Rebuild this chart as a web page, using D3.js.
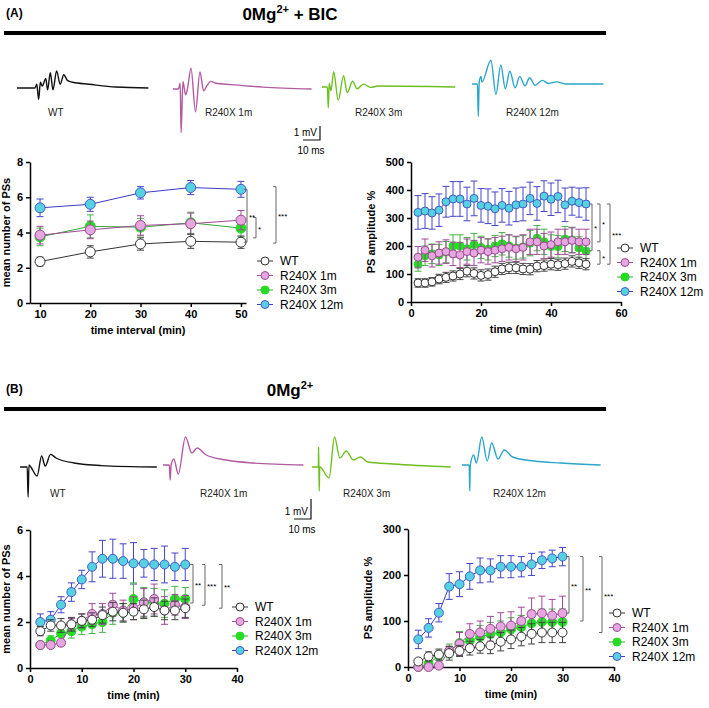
<!DOCTYPE html>
<html><head><meta charset="utf-8">
<script src="https://cdn.jsdelivr.net/npm/d3@7"></script>
<style>body{margin:0;background:#fff}text{font-family:Arial,"Liberation Sans",sans-serif}</style>
</head><body>
<svg id="fig" width="709" height="708"></svg>
<script>
// group labels
var groups = ["WT", "R240X 1m", "R240X 3m", "R240X 12m"];

// A1: mean number of PSs vs time interval
var a1Time = [10, 20, 30, 40, 50];
var a1Mean = [
  [2.35, 2.9, 3.35, 3.5, 3.45],
  [3.85, 4.15, 4.4, 4.5, 4.7],
  [3.75, 4.35, 4.3, 4.55, 4.25],
  [5.4, 5.6, 6.25, 6.55, 6.45]];
var a1Err = [
  [0.25, 0.35, 0.35, 0.4, 0.35],
  [0.5, 0.5, 0.55, 0.6, 0.55],
  [0.5, 0.65, 0.5, 0.6, 0.5],
  [0.5, 0.4, 0.35, 0.4, 0.45]];

// A2: PS amplitude %
var a2Time = d3.range(2, 51, 2);
var a2Mean = [
  [68,68,72,82,88,93,100,110,102,95,98,108,118,122,122,118,117,128,130,135,133,137,145,140,135],
  [160,185,165,175,180,172,168,180,175,185,180,185,190,195,190,195,215,215,200,205,215,215,220,215,215],
  [135,165,172,168,178,200,200,190,205,195,188,200,208,200,193,197,210,228,215,198,198,225,222,193,182],
  [320,325,318,328,358,368,368,350,370,345,342,333,345,335,347,350,370,352,378,367,377,347,360,355,350]];
var a2Err = [
  [15,15,15,17,18,18,20,20,20,20,20,20,20,20,20,20,20,20,20,20,20,20,20,20,20],
  [38,40,40,40,42,42,45,45,45,45,45,45,45,45,45,45,45,45,45,45,45,45,45,45,45],
  [25,35,35,38,38,40,40,40,40,40,38,38,40,40,40,40,45,45,45,42,40,45,45,40,38],
  [60,62,58,58,55,62,62,60,62,60,62,60,60,60,60,60,58,60,55,58,58,60,50,52,58]];

// B1: mean number of PSs
var bTime = d3.range(2, 31, 2);
var b1Mean = [
  [1.6,1.85,1.85,1.9,2.05,2.1,2.3,2.45,2.4,2.45,2.55,2.65,2.5,2.5,2.6],
  [1.0,1.0,1.1,1.9,2.05,2.35,2.35,2.75,2.5,2.6,2.85,3.0,2.5,2.75,2.65],
  [1.0,1.2,1.5,1.6,1.8,1.9,2.0,2.4,2.4,3.0,2.85,2.85,2.8,3.0,3.0],
  [2.0,2.1,2.75,3.3,3.85,4.4,4.75,4.75,4.65,4.55,4.55,4.5,4.5,4.4,4.5]];
var b1Err = [
  [0.2,0.25,0.3,0.3,0.3,0.3,0.35,0.4,0.4,0.35,0.4,0.4,0.4,0.4,0.4],
  [0.05,0.05,0.1,0.25,0.3,0.45,0.45,0.5,0.45,0.5,0.6,0.65,0.6,0.45,0.5],
  [0.05,0.2,0.3,0.3,0.35,0.4,0.45,0.5,0.4,0.7,0.65,0.6,0.6,0.55,0.5],
  [0.35,0.35,0.35,0.4,0.4,0.65,0.8,0.85,0.75,0.9,0.6,0.7,0.8,0.6,0.7]];

// B2: PS amplitude %
var b2Mean = [
  [12,23,27,30,35,41,45,47,55,60,66,72,75,75,75],
  [0,0,3,35,50,72,75,83,88,90,100,115,117,112,117],
  [0,7,25,35,52,57,65,72,75,82,87,95,98,98,98],
  [60,85,118,175,180,197,210,210,218,218,218,223,232,236,240]];
var b2Err = [
  [5,10,12,15,12,15,15,18,20,20,20,22,22,22,22],
  [0,2,3,10,25,22,25,27,30,30,30,35,37,35,37],
  [0,8,10,15,25,22,25,25,25,25,25,28,28,28,28],
  [20,20,20,28,27,28,27,25,24,24,22,24,18,18,20]];

// example traces: [ms, mV]
var tracesA = [
  [[0,0],[10,0],[11,0.2],[12,-0.6],[13,0.3],[14,0.1],[16,0.5],[17,-0.1],[18.5,0.8],[20,-0.1],[22,0.9],[24,0.2],[26,0.7],[28,0.4],[31,0.3],[40,0.2],[55,0.05],[73,0]],
  [[0,0],[3,0],[4,0.3],[4.5,-2.3],[5.5,0.4],[7,-0.3],[8,0],[10,1.1],[12.5,-1.2],[15,0.9],[17,-0.1],[19,0.2],[21,0.4],[24,0.3],[30,0.25],[50,0.1],[77,0]],
  [[0,0],[3,0],[3.5,-1.1],[4,0.2],[5,-0.2],[6.5,0.8],[9,-0.7],[12,0.6],[14,-0.3],[17,0.3],[19.5,-0.1],[23,0.15],[27,-0.02],[31,0.05],[74,0]],
  [[0,0],[3,0],[3.5,-1.7],[4,0.1],[5,0.4],[5.5,0.1],[10.5,1.25],[13.3,-0.55],[16,1.0],[18.5,-0.25],[21,0.67],[24,-0.2],[26.5,0.4],[29.5,-0.1],[32,0.33],[35,-0.07],[39,0.19],[42.5,0.03],[47,0.11],[52,0],[73,0]]];
var tracesB = [
  [[0,0],[4,0],[4.5,-1.5],[5,0.1],[6,0],[9.5,-0.45],[12,0.55],[14,0.05],[17,0.63],[20,0.45],[30,0.2],[45,0.07],[76,0]],
  [[0,0],[3.5,0],[4,-0.75],[4.5,0],[6,0.3],[8.5,-0.45],[12.5,1.4],[16,0.6],[19,0.85],[24,0.5],[35,0.25],[50,0.1],[78,0]],
  [[0,0],[3.5,0],[3.7,1.0],[4,-1.2],[4.3,0],[9.5,-0.55],[12.5,1.5],[15.5,0.45],[19,0.8],[23,0.35],[27,0.5],[31,0.25],[45,0.15],[77,0]],
  [[0,0],[4,0],[4.3,-1.3],[4.6,0],[6.5,0.5],[8,0.1],[11,1.4],[14,0.2],[16.5,1.1],[20,0.3],[23.5,0.75],[28,0.4],[40,0.2],[55,0.1],[77,0]]];

var traceColor = ["#111", "#b45aa0", "#6cbf1e", "#2aa5cc"];
var lineColor = ["#333", "#a04898", "#30a830", "#3a3ac4"];
var errColor = ["#444", "#a04898", "#48b048", "#4444cc"];
var fillColor = ["#fff", "#e6a6df", "#22dd22", "#55d2e2"];
var strokeColor = ["#333", "#9a4c90", "#22dd22", "#4a5ac8"];

var svg = d3.select("#fig");

function header(label, title, y) {
  svg.append("text").attr("x", 6).attr("y", y - 3).attr("font-size", 12).attr("font-weight", "bold").text(label);
  var t = svg.append("text").attr("x", 290).attr("y", y).attr("text-anchor", "middle")
    .attr("font-size", 17).attr("font-weight", "bold");
  t.append("tspan").text("0Mg");
  t.append("tspan").attr("font-size", 11).attr("dy", -7).text("2+");
  t.append("tspan").attr("dy", 7).text(title);
  svg.append("rect").attr("x", 4).attr("y", y + 11).attr("width", 602).attr("height", 4).attr("fill", "#000");
}
header("(A)", " + BIC", 20);
header("(B)", "", 396);

function traces(data, xs, base, unit, mv, labY, labX, bar) {
  data.forEach(function(tr, i) {
    var x = d3.scaleLinear().domain([0, 75]).range([xs[i], xs[i] + 135]);
    var y = d3.scaleLinear().domain([0, 1]).range([base[i], base[i] - unit]);
    svg.append("path").datum(tr).attr("fill", "none").attr("stroke", traceColor[i]).attr("stroke-width", 1.4)
      .attr("d", d3.line().x(function(d) { return x(d[0]); }).y(function(d) { return y(d[1]); }).curve(d3.curveMonotoneX));
    svg.append("text").attr("x", labX[i]).attr("y", labY).attr("font-size", 10).attr("fill", "#222").text(groups[i]);
  });
  // scale bar 1 mV / 10 ms
  svg.append("path").attr("fill", "none").attr("stroke", "#111").attr("stroke-width", 1.2)
    .attr("d", "M" + bar[0] + "," + (bar[1] - mv) + "V" + bar[1] + "H" + (bar[0] - 17));
  svg.append("text").attr("x", bar[0] - 3).attr("y", bar[1] - 4).attr("text-anchor", "end").attr("font-size", 10).text("1 mV");
  svg.append("text").attr("x", bar[0] - 9).attr("y", bar[1] + 14).attr("text-anchor", "middle").attr("font-size", 10).text("10 ms");
}
traces(tracesA, [17, 173, 322, 472], [88, 89, 87, 84], 19, 14, 116, [48, 205, 355, 506], [320, 140]);
traces(tracesB, [20, 163, 312, 462], [467, 465, 467, 465], 20, 20, 497, [50, 200, 343, 493], [311, 519]);

function plot(o) {
  var x = d3.scaleLinear().domain(o.xd).range(o.xr);
  var y = d3.scaleLinear().domain(o.yd).range(o.yr);
  var g = svg.append("g");
  g.append("g").attr("transform", "translate(" + o.xr[0] + ",0)")
    .call(d3.axisLeft(y).tickValues(o.yt).tickFormat(d3.format("d")).tickSize(4).tickSizeOuter(0));
  g.append("g").attr("transform", "translate(0," + o.yr[0] + ")")
    .call(d3.axisBottom(x).tickValues(o.xt).tickFormat(d3.format("d")).tickSize(4).tickSizeOuter(0));
  g.selectAll(".domain,.tick line").attr("stroke", "#000").attr("stroke-width", 1.5);
  g.selectAll(".tick text").attr("font-size", 11).attr("font-weight", "bold").attr("fill", "#000")
    .attr("font-family", "Arial,Liberation Sans,sans-serif");
  g.append("text").attr("x", d3.mean(o.xr)).attr("y", o.yr[0] + 31).attr("text-anchor", "middle")
    .attr("font-size", 11).attr("font-weight", "bold").text(o.xl);
  g.append("text").attr("transform", "translate(" + (o.xr[0] - o.yo) + "," + d3.mean(o.yr) + ")rotate(-90)")
    .attr("text-anchor", "middle").attr("font-size", 11).attr("font-weight", "bold").text(o.yl);
  [3, 2, 1, 0].forEach(function(k) {
    var pts = o.t.map(function(t, j) { return [t, o.m[k][j], o.e[k][j]]; });
    g.append("path").datum(pts).attr("fill", "none").attr("stroke", lineColor[k]).attr("stroke-width", 1)
      .attr("d", d3.line().x(function(d) { return x(d[0]); }).y(function(d) { return y(d[1]); }));
    var eb = g.append("g").attr("stroke", errColor[k]).attr("stroke-width", 1).attr("fill", "none");
    eb.selectAll("path").data(pts).join("path").attr("d", function(d) {
      var cx = x(d[0]), t = y(d[1] + d[2]), b = y(d[1] - d[2]);
      return "M" + cx + "," + t + "V" + b + "M" + (cx - 3.5) + "," + t + "h7M" + (cx - 3.5) + "," + b + "h7";
    });
    g.append("g").selectAll("circle").data(pts).join("circle")
      .attr("cx", function(d) { return x(d[0]); }).attr("cy", function(d) { return y(d[1]); })
      .attr("r", o.r).attr("fill", fillColor[k]).attr("stroke", strokeColor[k]).attr("stroke-width", 1);
  });
  o.br.forEach(function(b) {
    g.append("path").attr("fill", "none").attr("stroke", "#666").attr("stroke-width", 1)
      .attr("d", "M" + (b[0] - 3) + "," + y(b[1]) + "H" + b[0] + "V" + y(b[2]) + "H" + (b[0] - 3));
    g.append("text").attr("x", b[0] + 2).attr("y", (y(b[1]) + y(b[2])) / 2 + 4).attr("font-size", 8).text(b[3]);
  });
  groups.forEach(function(name, k) {
    var ly = o.lg[1] + k * 14.5;
    g.append("line").attr("x1", o.lg[0] - 8).attr("x2", o.lg[0] + 8).attr("y1", ly).attr("y2", ly)
      .attr("stroke", lineColor[k]).attr("stroke-width", 1);
    g.append("circle").attr("cx", o.lg[0]).attr("cy", ly).attr("r", 4)
      .attr("fill", fillColor[k]).attr("stroke", strokeColor[k]);
    g.append("text").attr("x", o.lg[0] + 15).attr("y", ly + 4).attr("font-size", 12).text(name);
  });
}

plot({xd: [8, 51], xr: [30, 246], yd: [0, 8], yr: [303, 162], xt: [10, 20, 30, 40, 50], yt: [0, 2, 4, 6, 8],
  t: a1Time, m: a1Mean, e: a1Err, r: 5, xl: "time interval (min)", yl: "mean number of PSs", yo: 20,
  br: [[247, 6.45, 3.45, "**"], [256, 4.85, 3.7, "*"], [276, 6.6, 3.4, "***"]], lg: [265, 261]});
plot({xd: [0, 60], xr: [411, 621], yd: [0, 500], yr: [302, 162], xt: [0, 20, 40, 60], yt: [0, 100, 200, 300, 400, 500],
  t: a2Time, m: a2Mean, e: a2Err, r: 4, xl: "time (min)", yl: "PS amplitude %", yo: 36,
  br: [[592, 350, 183, "*"], [600, 350, 215, "*"], [600, 183, 135, "*"], [610, 350, 135, "***"]], lg: [625, 248]});
plot({xd: [0, 40], xr: [30, 237], yd: [0, 6], yr: [668, 530], xt: [0, 10, 20, 30, 40], yt: [0, 2, 4, 6],
  t: bTime, m: b1Mean, e: b1Err, r: 4.5, xl: "time (min)", yl: "mean number of PSs", yo: 20,
  br: [[193, 4.5, 2.83, "**"], [205, 4.5, 2.73, "***"], [222, 4.5, 2.6, "**"]], lg: [240, 607]});
plot({xd: [0, 40], xr: [408, 614], yd: [0, 300], yr: [667, 529], xt: [0, 10, 20, 30, 40], yt: [0, 100, 200, 300],
  t: bTime, m: b2Mean, e: b2Err, r: 4.5, xl: "time (min)", yl: "PS amplitude %", yo: 36,
  br: [[569, 240, 117, "**"], [583, 240, 100, "**"], [602, 240, 75, "***"]], lg: [617, 613]});
</script>
</body></html>
